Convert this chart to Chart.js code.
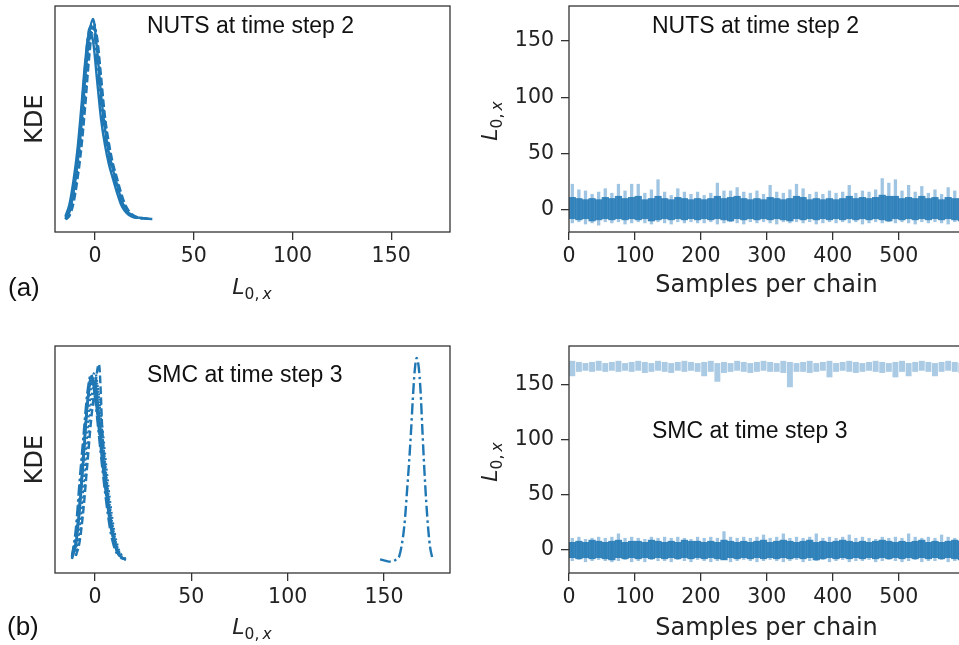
<!DOCTYPE html>
<html>
<head>
<meta charset="utf-8">
<script src="https://cdn.jsdelivr.net/npm/chart.js@4.4.1/dist/chart.umd.min.js"></script>
<style>
  html, body { margin: 0; padding: 0; background: #fff; overflow: hidden; }
  #wrap { position: relative; width: 959px; height: 645px; overflow: hidden; background: #fff; }
  canvas { position: absolute; }
  .note { position: absolute; font-family: "Liberation Sans", Arial, sans-serif; font-size: 23px; line-height: 23px; color: #111; white-space: nowrap; }
  .tag { position: absolute; font-family: "Liberation Sans", Arial, sans-serif; font-size: 26px; line-height: 26px; color: #111; }
  .math { position: absolute; font-family: "DejaVu Sans", sans-serif; font-size: 22px; line-height: 22px; color: #222; white-space: nowrap; transform: translate(-50%, -50%); }
  .math i { font-style: italic; }
  .math .sub { font-size: 15.5px; position: relative; top: 5px; }
  .math.rot { transform: translate(-50%, -50%) rotate(-90deg); }
</style>
</head>
<body>
<div id="wrap">
  <canvas id="kdeTop" width="470" height="310" style="left:0;top:0"></canvas>
  <canvas id="traceTop" width="494" height="310" style="left:470px;top:0"></canvas>
  <canvas id="kdeBot" width="470" height="315" style="left:0;top:330px"></canvas>
  <canvas id="traceBot" width="494" height="315" style="left:470px;top:330px"></canvas>

  <div class="note" style="left:147px;top:14px">NUTS at time step 2</div>
  <div class="note" style="left:652px;top:14px">NUTS at time step 2</div>
  <div class="note" style="left:147px;top:363px">SMC at time step 3</div>
  <div class="note" style="left:652px;top:419px">SMC at time step 3</div>

  <div class="tag" style="left:8px;top:274px">(a)</div>
  <div class="tag" style="left:7px;top:613px">(b)</div>

  <div class="math" style="left:252px;top:288px"><i>L</i><span class="sub">0,&#8201;<i>x</i></span></div>
  <div class="math" style="left:252px;top:628px"><i>L</i><span class="sub">0,&#8201;<i>x</i></span></div>
  <div class="math rot" style="left:491px;top:121px"><i>L</i><span class="sub">0,&#8201;<i>x</i></span></div>
  <div class="math rot" style="left:491px;top:462px"><i>L</i><span class="sub">0,&#8201;<i>x</i></span></div>
</div>
<script>
// tick labels
const kdeTicks = [0, 50, 100, 150];
const sampleTicks = [0, 100, 200, 300, 400, 500];
const traceTicks = [0, 50, 100, 150];

// KDE of L0,x per chain, NUTS step 2 (density scaled so the tallest peak is 100)
const nutsKdeX = [-15, -13, -11, -9, -7, -5, -3, -1, 1, 3, 5, 7, 9, 11, 13, 15, 17, 19, 21, 23, 25, 27, 29];
const nutsKde1 = [0.5, 4, 13, 27, 46, 70, 91, 99, 84, 62, 45, 33, 25, 18, 11, 6, 3.5, 2, 1.3, 1, 0.8, 0.6, 0.5];
const nutsKde2 = [0.3, 2, 8, 19.5, 35, 56, 80, 95, 90, 71, 51, 38, 28, 21, 14, 8.2, 4.6, 2.6, 1.6, 1.1, 0.9, 0.7, null];
const nutsKde3 = [1.2, 6, 16.5, 31.5, 52, 76, 94, 96, 78.5, 57.5, 42, 31, 23, 16, 9.8, 5.3, 3.1, 1.8, 1.2, 0.9, null, null, null];
const nutsKde4 = [0.4, 3, 10.5, 23.5, 41, 64, 86.5, 98, 88.5, 67.5, 49, 36, 27, 19.7, 12.7, 7.2, 4.1, 2.3, 1.45, 1.05, 0.85, null, null];
const nutsKde5 = [1.9, 7.6, 19, 34, 55, 78, 92, 88, 69, 50, 37, 27.5, 20.5, 13.8, 8, 4.5, 2.6, 1.5, 1, null, null, null, null];
const nutsKde6 = [null, 4, 13.5, 28, 47, 69, 88, 95, 86, 66, 48, 35, 26, 18.5, 11.5, 6.2, 3.6, 2, 1.3, 1, 0.8, 0.6, null];

// KDE per chain, SMC step 3: one bundle near 0, one chain stuck near 167
const smcKdeX = [-12, -10, -8, -6, -4, -2, 0, 2, 4, 6, 8, 10, 12, 14, 16];
const smcKde1 = [1.5, 9, 28, 52, 78, 91, 86, 70, 50, 33, 19, 10, 4, 2, null];
const smcKde2 = [null, 3, 10, 26, 48, 70, 86, 97, 60, 38, 21, 10, 4, 1.5, null];
const smcKde3 = [2.5, 16, 40, 62, 83, 92, 80, 62, 44, 28, 15, 7, 3, null, null];
const smcKde4 = [null, 3, 12, 30, 55, 78, 90, 82, 64, 45, 28, 15, 7, 3, 1.5];
const smcKde5 = [null, 7, 25, 50, 76, 89, 88, 72, 53, 36, 21, 11, 5, 2, 1.2];
const smcKde6 = [2, 10, 29, 54, 77, 88, 84, 69, 52, 35, 21, 11, 5, 2.2, 1];
const smcKde7 = [null, 5, 17, 38, 64, 86, 93, 80, 60, 41, 25, 13, 6, 2.5, null];
const smcKde8 = [3, 13, 34, 58, 80, 90, 82, 65, 47, 31, 18, 9, 4, 2, 1.4];
const smcOutX = [148, 150, 152, 154, 156, 158, 160, 161, 162, 163, 164, 165, 166, 167, 168, 169, 170, 171, 172, 173, 174, 175];
const smcOutKde = [1.3, 0.8, 0.3, 0.2, 1.0, 3, 13, 22, 35, 48, 63, 80, 94, 100, 96, 84, 64, 45, 29, 16, 7, 2.5];

// trace plots, read per block of 10 samples (range of all chains in that block)
const sampleBins = Array.from({length: 60}, (_, i) => i * 10 + 5);
const nutsSpikeHi = [23,18,17,14,16,19,15,23,17,23, 23,15,18,27,16,13,19,16,14,16, 13,15,24,17,17,20,16,15,17,14,
                     22,16,15,18,23,19,14,16,14,17, 15,16,22,15,17,16,18,28,24,27, 17,22,16,21,15,18,14,20,17,15];
const nutsCoreHi = [11,10,9,10,9,11,10,12,10,11, 12,9,10,12,10,9,11,10,9,10, 9,10,12,10,11,12,10,9,10,9,
                    11,10,9,10,12,11,9,10,9,10, 9,10,12,10,11,10,11,13,12,12, 10,11,10,12,10,11,9,11,10,10];
const nutsCoreLo = [-8,-9,-8,-10,-9,-8,-9,-8,-9,-8, -9,-8,-10,-9,-8,-9,-8,-9,-8,-9, -8,-9,-8,-9,-10,-8,-9,-8,-9,-8,
                    -9,-8,-9,-10,-8,-9,-8,-9,-8,-9, -8,-9,-8,-9,-8,-9,-8,-9,-10,-8, -9,-8,-9,-8,-9,-8,-9,-8,-9,-10];
const nutsSpikeLo = [-12,-11,-13,-12,-14,-11,-12,-11,-13,-12, -11,-12,-13,-11,-12,-13,-11,-12,-11,-12, -12,-11,-13,-12,-11,-12,-13,-11,-12,-11,
                     -12,-13,-11,-12,-11,-12,-11,-13,-12,-11, -12,-11,-12,-11,-13,-12,-11,-12,-11,-12, -11,-12,-13,-11,-12,-11,-12,-13,-11,-12];

const smcSpikeHi = [11,12,10,11,12,11,12,15,11,12, 11,10,12,11,12,11,12,11,10,12, 11,12,11,17,12,11,12,11,12,14,
                    11,12,15,11,12,11,12,15,11,12, 11,12,14,11,12,11,10,12,11,12, 11,15,12,11,12,11,14,12,11,12];
const smcCoreHi = [7,8,7,9,8,7,8,9,7,8, 8,7,9,8,7,8,7,9,8,8, 7,8,7,9,8,7,8,7,8,9,
                   7,8,9,8,7,8,9,7,8,7, 8,9,8,7,8,7,8,9,8,7, 8,7,8,9,7,8,7,8,9,8];
const smcCoreLo = [-7,-8,-7,-8,-7,-8,-9,-7,-8,-7, -8,-7,-8,-7,-8,-7,-8,-7,-8,-7, -8,-7,-8,-9,-7,-8,-7,-8,-7,-8,
                   -7,-8,-7,-8,-7,-8,-7,-9,-8,-7, -8,-7,-8,-7,-8,-7,-8,-7,-8,-7, -8,-7,-8,-7,-8,-7,-8,-7,-8,-9];
const smcSpikeLo = [-10,-9,-11,-10,-9,-10,-11,-10,-9,-11, -10,-11,-9,-10,-10,-11,-9,-10,-11,-9, -10,-11,-10,-9,-11,-10,-9,-10,-11,-10,
                    -9,-10,-11,-10,-9,-11,-10,-10,-9,-11, -10,-9,-11,-10,-10,-9,-11,-10,-9,-10, -11,-10,-9,-11,-10,-10,-9,-11,-10,-12];
const smcStuckHi = [172,171,170,171,172,170,171,172,170,171, 172,171,170,172,171,170,171,172,171,170, 171,172,170,171,170,172,171,170,171,172,
                    171,170,172,171,170,171,172,170,171,172, 170,171,172,171,170,171,172,171,170,171, 172,170,171,172,171,170,171,172,171,170];
const smcStuckLo = [158,162,163,162,163,162,163,162,163,162, 163,161,162,163,162,161,163,162,163,162, 158,162,153,161,162,163,162,161,162,163,
                    162,162,161,148,162,162,161,162,163,157, 162,163,162,161,162,163,162,161,162,157, 162,158,162,163,162,158,162,163,162,161];

const blue = '#1f77b4';
const ink = '#222';
const spine = '#333';
Chart.defaults.font.family = 'DejaVu Sans';

// matplotlib draws a box round every axes
const framePlugin = {
    id: 'frame',
    afterDraw(chart) {
        let a = chart.chartArea;
        let ctx = chart.ctx;
        ctx.save();
        ctx.strokeStyle = spine;
        ctx.lineWidth = 1.3;
        ctx.strokeRect(a.left, a.top, a.right - a.left, a.bottom - a.top);
        ctx.restore();
    }
};

const dashes = {solid: [], dashed: [7.5, 3.3], dashdot: [11, 3.5, 2.5, 3.5], dotted: [2, 3.4]};

function kdeLine(xs, ys, style) {
    return {
        data: xs.map((x, i) => ({x: x, y: ys[i]})).filter(p => p.y !== null),
        borderColor: blue,
        borderWidth: 2.4,
        borderDash: dashes[style],
        borderCapStyle: 'butt',
        pointRadius: 0,
        cubicInterpolationMode: 'monotone',
        fill: false
    };
}

function rangeBars(lo, hi, color, width) {
    return {
        data: sampleBins.map((s, i) => ({x: s, y: [lo[i], hi[i]]})),
        backgroundColor: color,
        borderWidth: 0,
        barPercentage: width,
        categoryPercentage: 1,
        grouped: false
    };
}

function tickGrid(len) {
    return {display: true, drawOnChartArea: false, drawTicks: true, tickLength: len, color: spine, lineWidth: 1.3, offset: false};
}

function fixedTicks(list) {
    return s => { s.ticks = list.map(v => ({value: v})); };
}

// pin the axis box so the plot area sits where matplotlib put it
function pinSize(key, size) {
    return s => {
        s[key] = size;
        s.paddingTop = 0;
        s.paddingBottom = 0;
        s.paddingLeft = 0;
        s.paddingRight = 0;
    };
}

function kdeChart(id, datasets, xMin, xMax, yMin, yMax, top, axisH) {
    return new Chart(document.getElementById(id), {
        type: 'line',
        data: {datasets: datasets},
        options: {
            responsive: false,
            animation: false,
            layout: {padding: {top: top, right: 20, bottom: 0, left: 0}},
            plugins: {legend: {display: false}, tooltip: {enabled: false}},
            scales: {
                x: {
                    type: 'linear', min: xMin, max: xMax,
                    afterBuildTicks: fixedTicks(kdeTicks),
                    ticks: {maxRotation: 0, padding: 4, color: ink, font: {size: 20.5}},
                    grid: tickGrid(8),
                    border: {display: false},
                    afterFit: pinSize('height', axisH)
                },
                y: {
                    min: yMin, max: yMax,
                    ticks: {display: false},
                    grid: {display: false},
                    border: {display: false},
                    title: {display: true, text: 'KDE', color: ink, font: {size: 24}, padding: {top: 21, bottom: 0}},
                    afterFit: pinSize('width', 55)
                }
            }
        },
        plugins: [framePlugin]
    });
}

function traceChart(id, datasets, yMin, yMax, top, axisH, titlePad) {
    return new Chart(document.getElementById(id), {
        type: 'bar',
        data: {datasets: datasets},
        options: {
            responsive: false,
            animation: false,
            layout: {padding: {top: top, right: 0, bottom: 0, left: 0}},
            plugins: {legend: {display: false}, tooltip: {enabled: false}},
            scales: {
                x: {
                    type: 'linear', min: 0, max: 599, offset: false,
                    afterBuildTicks: fixedTicks(sampleTicks),
                    ticks: {maxRotation: 0, padding: 4, color: ink, font: {size: 20.5}},
                    grid: tickGrid(8),
                    border: {display: false},
                    title: {display: true, text: 'Samples per chain', color: ink, font: {size: 24}, padding: {top: 0, bottom: titlePad}},
                    afterFit: pinSize('height', axisH)
                },
                y: {
                    min: yMin, max: yMax,
                    afterBuildTicks: fixedTicks(traceTicks),
                    ticks: {padding: 7, color: ink, font: {size: 20.5}},
                    grid: tickGrid(8),
                    border: {display: false},
                    afterFit: pinSize('width', 99)
                }
            }
        },
        plugins: [framePlugin]
    });
}

// (a) NUTS
kdeChart('kdeTop', [
    kdeLine(nutsKdeX, nutsKde1, 'solid'),
    kdeLine(nutsKdeX, nutsKde2, 'dashed'),
    kdeLine(nutsKdeX, nutsKde3, 'dashdot'),
    kdeLine(nutsKdeX, nutsKde4, 'dotted'),
    kdeLine(nutsKdeX, nutsKde5, 'solid'),
    kdeLine(nutsKdeX, nutsKde6, 'dashed')
], -20.3, 179.8, -5.9, 105.4, 6, 78);

// first dataset is painted last (on top) in Chart.js
traceChart('traceTop', [
    rangeBars(nutsCoreLo, nutsCoreHi, 'rgba(31,119,180,0.86)', 1.0),
    rangeBars(nutsSpikeLo, nutsSpikeHi, '#a0c5e2', 0.5)
], -19.8, 181.2, 6, 78, 10);

// (b) SMC
kdeChart('kdeBot', [
    kdeLine(smcKdeX, smcKde1, 'solid'),
    kdeLine(smcKdeX, smcKde2, 'dashed'),
    kdeLine(smcKdeX, smcKde3, 'dashdot'),
    kdeLine(smcKdeX, smcKde4, 'dotted'),
    kdeLine(smcKdeX, smcKde5, 'solid'),
    kdeLine(smcKdeX, smcKde6, 'dashed'),
    kdeLine(smcKdeX, smcKde7, 'dotted'),
    kdeLine(smcKdeX, smcKde8, 'dashdot'),
    kdeLine(smcOutX, smcOutKde, 'dashdot')
], -20.8, 184.3, -5.4, 105.9, 16, 72);

traceChart('traceBot', [
    rangeBars(smcCoreLo, smcCoreHi, 'rgba(31,119,180,0.88)', 1.0),
    rangeBars(smcSpikeLo, smcSpikeHi, '#a0c5e2', 0.5),
    rangeBars(smcStuckLo, smcStuckHi, '#abcbe5', 0.9)
], -20.9, 185.5, 16, 72, 2);
</script>
</body>
</html>
